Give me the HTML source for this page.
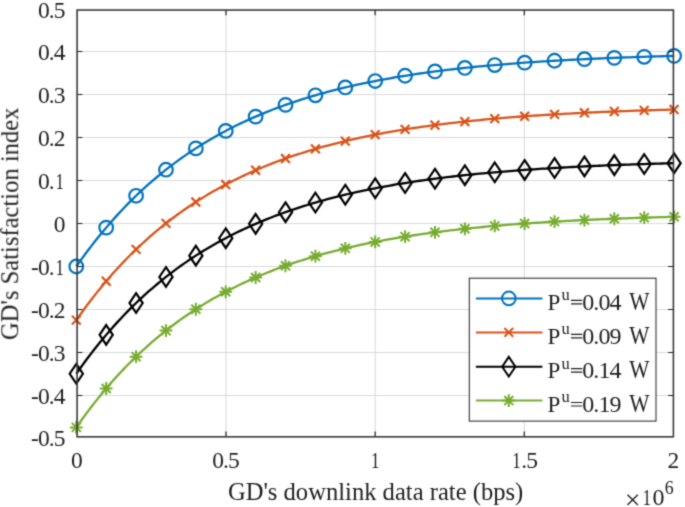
<!DOCTYPE html>
<html><head><meta charset="utf-8"><style>
html,body{margin:0;padding:0;background:#fff;overflow:hidden;}
svg{display:block;}
text{font-family:"Liberation Serif",serif;fill:#1e1e1e;}
</style></head><body>
<svg width="685" height="507" viewBox="0 0 685 507">
<defs><filter id="bl" x="0" y="0" width="685" height="507" filterUnits="userSpaceOnUse" color-interpolation-filters="sRGB"><feConvolveMatrix order="3" kernelMatrix="0.02768 0.11101 0.02768 0.11101 0.44521 0.11101 0.02768 0.11101 0.02768" edgeMode="duplicate" preserveAlpha="true"/></filter></defs>
<rect x="0" y="0" width="685" height="507" fill="#fff"/>
<g filter="url(#bl)">
<rect x="0" y="0" width="685" height="507" fill="#fff"/>

<path d="M226.00 10.05V436.80M375.15 10.05V436.80M524.30 10.05V436.80M77.10 395.50H673.40M77.10 352.50H673.40M77.10 309.50H673.40M77.10 266.50H673.40M77.10 223.50H673.40M77.10 180.50H673.40M77.10 137.50H673.40M77.10 94.50H673.40M77.10 51.50H673.40" stroke="#dadada" stroke-width="1.1" fill="none"/>
<path d="M76.30 266.50 L79.29 262.25 L82.28 258.09 L85.27 254.01 L88.26 250.01 L91.25 246.09 L94.23 242.24 L97.22 238.48 L100.21 234.78 L103.20 231.17 L106.19 227.62 L109.18 224.14 L112.17 220.73 L115.16 217.39 L118.15 214.12 L121.13 210.91 L124.12 207.76 L127.11 204.67 L130.10 201.65 L133.09 198.69 L136.08 195.78 L139.07 192.94 L142.06 190.15 L145.05 187.41 L148.04 184.73 L151.02 182.10 L154.01 179.52 L157.00 177.00 L159.99 174.52 L162.98 172.10 L165.97 169.72 L168.96 167.39 L171.95 165.10 L174.94 162.86 L177.93 160.67 L180.91 158.52 L183.90 156.41 L186.89 154.34 L189.88 152.31 L192.87 150.33 L195.86 148.38 L198.85 146.47 L201.84 144.60 L204.83 142.77 L207.82 140.97 L210.81 139.21 L213.79 137.48 L216.78 135.79 L219.77 134.13 L222.76 132.50 L225.75 130.91 L228.74 129.35 L231.73 127.82 L234.72 126.31 L237.71 124.84 L240.69 123.40 L243.68 121.99 L246.67 120.60 L249.66 119.24 L252.65 117.91 L255.64 116.61 L258.63 115.33 L261.62 114.07 L264.61 112.84 L267.60 111.64 L270.58 110.46 L273.57 109.30 L276.56 108.17 L279.55 107.05 L282.54 105.96 L285.53 104.90 L288.52 103.85 L291.51 102.82 L294.50 101.81 L297.49 100.83 L300.47 99.86 L303.46 98.91 L306.45 97.98 L309.44 97.07 L312.43 96.18 L315.42 95.31 L318.41 94.45 L321.40 93.61 L324.39 92.78 L327.38 91.98 L330.36 91.19 L333.35 90.41 L336.34 89.65 L339.33 88.90 L342.32 88.17 L345.31 87.46 L348.30 86.75 L351.29 86.07 L354.28 85.39 L357.27 84.73 L360.25 84.08 L363.24 83.45 L366.23 82.82 L369.22 82.21 L372.21 81.62 L375.20 81.03 L378.19 80.45 L381.18 79.89 L384.17 79.34 L387.16 78.80 L390.14 78.27 L393.13 77.75 L396.12 77.24 L399.11 76.74 L402.10 76.25 L405.09 75.77 L408.08 75.30 L411.07 74.84 L414.06 74.38 L417.05 73.94 L420.03 73.51 L423.02 73.08 L426.01 72.66 L429.00 72.25 L431.99 71.85 L434.98 71.46 L437.97 71.07 L440.96 70.70 L443.95 70.33 L446.94 69.96 L449.93 69.61 L452.91 69.26 L455.90 68.92 L458.89 68.58 L461.88 68.25 L464.87 67.93 L467.86 67.62 L470.85 67.31 L473.84 67.00 L476.83 66.71 L479.81 66.42 L482.80 66.13 L485.79 65.85 L488.78 65.58 L491.77 65.31 L494.76 65.04 L497.75 64.79 L500.74 64.53 L503.73 64.28 L506.72 64.04 L509.70 63.80 L512.69 63.57 L515.68 63.34 L518.67 63.12 L521.66 62.90 L524.65 62.68 L527.64 62.47 L530.63 62.26 L533.62 62.06 L536.61 61.86 L539.59 61.66 L542.58 61.47 L545.57 61.28 L548.56 61.10 L551.55 60.92 L554.54 60.74 L557.53 60.57 L560.52 60.40 L563.51 60.23 L566.50 60.07 L569.48 59.91 L572.47 59.75 L575.46 59.60 L578.45 59.45 L581.44 59.30 L584.43 59.16 L587.42 59.02 L590.41 58.88 L593.40 58.74 L596.39 58.61 L599.37 58.48 L602.36 58.35 L605.35 58.22 L608.34 58.10 L611.33 57.98 L614.32 57.86 L617.31 57.74 L620.30 57.63 L623.29 57.52 L626.28 57.41 L629.26 57.30 L632.25 57.20 L635.24 57.10 L638.23 56.99 L641.22 56.90 L644.21 56.80 L647.20 56.70 L650.19 56.61 L653.18 56.52 L656.17 56.43 L659.15 56.34 L662.14 56.26 L665.13 56.17 L668.12 56.09 L671.11 56.01 L674.10 55.93" stroke="#0072BD" stroke-width="2.3" fill="none" stroke-linejoin="round"/>
<g stroke="#0072BD" stroke-width="2.2" fill="none"><circle cx="76.30" cy="266.50" r="6.8"/><circle cx="106.19" cy="227.62" r="6.8"/><circle cx="136.08" cy="195.78" r="6.8"/><circle cx="165.97" cy="169.72" r="6.8"/><circle cx="195.86" cy="148.38" r="6.8"/><circle cx="225.75" cy="130.91" r="6.8"/><circle cx="255.64" cy="116.61" r="6.8"/><circle cx="285.53" cy="104.90" r="6.8"/><circle cx="315.42" cy="95.31" r="6.8"/><circle cx="345.31" cy="87.46" r="6.8"/><circle cx="375.20" cy="81.03" r="6.8"/><circle cx="405.09" cy="75.77" r="6.8"/><circle cx="434.98" cy="71.46" r="6.8"/><circle cx="464.87" cy="67.93" r="6.8"/><circle cx="494.76" cy="65.04" r="6.8"/><circle cx="524.65" cy="62.68" r="6.8"/><circle cx="554.54" cy="60.74" r="6.8"/><circle cx="584.43" cy="59.16" r="6.8"/><circle cx="614.32" cy="57.86" r="6.8"/><circle cx="644.21" cy="56.80" r="6.8"/><circle cx="674.10" cy="55.93" r="6.8"/></g>
<path d="M76.30 320.12 L79.29 315.88 L82.28 311.71 L85.27 307.63 L88.26 303.63 L91.25 299.71 L94.23 295.87 L97.22 292.10 L100.21 288.41 L103.20 284.79 L106.19 281.24 L109.18 277.77 L112.17 274.36 L115.16 271.02 L118.15 267.74 L121.13 264.53 L124.12 261.38 L127.11 258.30 L130.10 255.28 L133.09 252.31 L136.08 249.41 L139.07 246.56 L142.06 243.77 L145.05 241.04 L148.04 238.35 L151.02 235.73 L154.01 233.15 L157.00 230.62 L159.99 228.15 L162.98 225.72 L165.97 223.35 L168.96 221.01 L171.95 218.73 L174.94 216.49 L177.93 214.29 L180.91 212.14 L183.90 210.03 L186.89 207.97 L189.88 205.94 L192.87 203.95 L195.86 202.01 L198.85 200.10 L201.84 198.23 L204.83 196.39 L207.82 194.60 L210.81 192.83 L213.79 191.11 L216.78 189.41 L219.77 187.76 L222.76 186.13 L225.75 184.54 L228.74 182.97 L231.73 181.44 L234.72 179.94 L237.71 178.47 L240.69 177.03 L243.68 175.61 L246.67 174.23 L249.66 172.87 L252.65 171.54 L255.64 170.23 L258.63 168.95 L261.62 167.70 L264.61 166.47 L267.60 165.26 L270.58 164.08 L273.57 162.93 L276.56 161.79 L279.55 160.68 L282.54 159.59 L285.53 158.52 L288.52 157.47 L291.51 156.45 L294.50 155.44 L297.49 154.45 L300.47 153.49 L303.46 152.54 L306.45 151.61 L309.44 150.70 L312.43 149.81 L315.42 148.93 L318.41 148.07 L321.40 147.23 L324.39 146.41 L327.38 145.60 L330.36 144.81 L333.35 144.03 L336.34 143.27 L339.33 142.53 L342.32 141.80 L345.31 141.08 L348.30 140.38 L351.29 139.69 L354.28 139.02 L357.27 138.36 L360.25 137.71 L363.24 137.07 L366.23 136.45 L369.22 135.84 L372.21 135.24 L375.20 134.65 L378.19 134.08 L381.18 133.52 L384.17 132.96 L387.16 132.42 L390.14 131.89 L393.13 131.37 L396.12 130.86 L399.11 130.36 L402.10 129.87 L405.09 129.39 L408.08 128.92 L411.07 128.46 L414.06 128.01 L417.05 127.56 L420.03 127.13 L423.02 126.70 L426.01 126.29 L429.00 125.88 L431.99 125.48 L434.98 125.08 L437.97 124.70 L440.96 124.32 L443.95 123.95 L446.94 123.59 L449.93 123.23 L452.91 122.88 L455.90 122.54 L458.89 122.21 L461.88 121.88 L464.87 121.56 L467.86 121.24 L470.85 120.93 L473.84 120.63 L476.83 120.33 L479.81 120.04 L482.80 119.76 L485.79 119.48 L488.78 119.20 L491.77 118.93 L494.76 118.67 L497.75 118.41 L500.74 118.16 L503.73 117.91 L506.72 117.67 L509.70 117.43 L512.69 117.19 L515.68 116.96 L518.67 116.74 L521.66 116.52 L524.65 116.30 L527.64 116.09 L530.63 115.89 L533.62 115.68 L536.61 115.48 L539.59 115.29 L542.58 115.10 L545.57 114.91 L548.56 114.73 L551.55 114.55 L554.54 114.37 L557.53 114.20 L560.52 114.03 L563.51 113.86 L566.50 113.70 L569.48 113.54 L572.47 113.38 L575.46 113.23 L578.45 113.08 L581.44 112.93 L584.43 112.78 L587.42 112.64 L590.41 112.50 L593.40 112.37 L596.39 112.23 L599.37 112.10 L602.36 111.97 L605.35 111.85 L608.34 111.73 L611.33 111.60 L614.32 111.49 L617.31 111.37 L620.30 111.26 L623.29 111.14 L626.28 111.04 L629.26 110.93 L632.25 110.82 L635.24 110.72 L638.23 110.62 L641.22 110.52 L644.21 110.42 L647.20 110.33 L650.19 110.24 L653.18 110.14 L656.17 110.05 L659.15 109.97 L662.14 109.88 L665.13 109.80 L668.12 109.71 L671.11 109.63 L674.10 109.55" stroke="#D95319" stroke-width="2.3" fill="none" stroke-linejoin="round"/>
<g stroke="#D95319" stroke-width="2.2" fill="none"><path d="M71.90 315.73L80.70 324.52M71.90 324.52L80.70 315.73"/><path d="M101.79 276.84L110.59 285.64M101.79 285.64L110.59 276.84"/><path d="M131.68 245.01L140.48 253.81M131.68 253.81L140.48 245.01"/><path d="M161.57 218.95L170.37 227.75M161.57 227.75L170.37 218.95"/><path d="M191.46 197.61L200.26 206.41M191.46 206.41L200.26 197.61"/><path d="M221.35 180.14L230.15 188.94M221.35 188.94L230.15 180.14"/><path d="M251.24 165.83L260.04 174.63M251.24 174.63L260.04 165.83"/><path d="M281.13 154.12L289.93 162.92M281.13 162.92L289.93 154.12"/><path d="M311.02 144.53L319.82 153.33M311.02 153.33L319.82 144.53"/><path d="M340.91 136.68L349.71 145.48M340.91 145.48L349.71 136.68"/><path d="M370.80 130.25L379.60 139.05M370.80 139.05L379.60 130.25"/><path d="M400.69 124.99L409.49 133.79M400.69 133.79L409.49 124.99"/><path d="M430.58 120.68L439.38 129.48M430.58 129.48L439.38 120.68"/><path d="M460.47 117.16L469.27 125.96M460.47 125.96L469.27 117.16"/><path d="M490.36 114.27L499.16 123.07M490.36 123.07L499.16 114.27"/><path d="M520.25 111.90L529.05 120.70M520.25 120.70L529.05 111.90"/><path d="M550.14 109.97L558.94 118.77M550.14 118.77L558.94 109.97"/><path d="M580.03 108.38L588.83 117.18M580.03 117.18L588.83 108.38"/><path d="M609.92 107.09L618.72 115.89M609.92 115.89L618.72 107.09"/><path d="M639.81 106.02L648.61 114.82M639.81 114.82L648.61 106.02"/><path d="M669.70 105.15L678.50 113.95M669.70 113.95L678.50 105.15"/></g>
<path d="M76.30 373.75 L79.29 369.50 L82.28 365.34 L85.27 361.26 L88.26 357.26 L91.25 353.34 L94.23 349.49 L97.22 345.73 L100.21 342.03 L103.20 338.42 L106.19 334.87 L109.18 331.39 L112.17 327.98 L115.16 324.64 L118.15 321.37 L121.13 318.16 L124.12 315.01 L127.11 311.92 L130.10 308.90 L133.09 305.94 L136.08 303.03 L139.07 300.19 L142.06 297.40 L145.05 294.66 L148.04 291.98 L151.02 289.35 L154.01 286.77 L157.00 284.25 L159.99 281.77 L162.98 279.35 L165.97 276.97 L168.96 274.64 L171.95 272.35 L174.94 270.11 L177.93 267.92 L180.91 265.77 L183.90 263.66 L186.89 261.59 L189.88 259.56 L192.87 257.58 L195.86 255.63 L198.85 253.72 L201.84 251.85 L204.83 250.02 L207.82 248.22 L210.81 246.46 L213.79 244.73 L216.78 243.04 L219.77 241.38 L222.76 239.75 L225.75 238.16 L228.74 236.60 L231.73 235.07 L234.72 233.56 L237.71 232.09 L240.69 230.65 L243.68 229.24 L246.67 227.85 L249.66 226.49 L252.65 225.16 L255.64 223.86 L258.63 222.58 L261.62 221.32 L264.61 220.09 L267.60 218.89 L270.58 217.71 L273.57 216.55 L276.56 215.42 L279.55 214.30 L282.54 213.21 L285.53 212.15 L288.52 211.10 L291.51 210.07 L294.50 209.06 L297.49 208.08 L300.47 207.11 L303.46 206.16 L306.45 205.23 L309.44 204.32 L312.43 203.43 L315.42 202.56 L318.41 201.70 L321.40 200.86 L324.39 200.03 L327.38 199.23 L330.36 198.44 L333.35 197.66 L336.34 196.90 L339.33 196.15 L342.32 195.42 L345.31 194.71 L348.30 194.00 L351.29 193.32 L354.28 192.64 L357.27 191.98 L360.25 191.33 L363.24 190.70 L366.23 190.07 L369.22 189.46 L372.21 188.87 L375.20 188.28 L378.19 187.70 L381.18 187.14 L384.17 186.59 L387.16 186.05 L390.14 185.52 L393.13 185.00 L396.12 184.49 L399.11 183.99 L402.10 183.50 L405.09 183.02 L408.08 182.55 L411.07 182.09 L414.06 181.63 L417.05 181.19 L420.03 180.76 L423.02 180.33 L426.01 179.91 L429.00 179.50 L431.99 179.10 L434.98 178.71 L437.97 178.32 L440.96 177.95 L443.95 177.58 L446.94 177.21 L449.93 176.86 L452.91 176.51 L455.90 176.17 L458.89 175.83 L461.88 175.50 L464.87 175.18 L467.86 174.87 L470.85 174.56 L473.84 174.25 L476.83 173.96 L479.81 173.67 L482.80 173.38 L485.79 173.10 L488.78 172.83 L491.77 172.56 L494.76 172.29 L497.75 172.04 L500.74 171.78 L503.73 171.53 L506.72 171.29 L509.70 171.05 L512.69 170.82 L515.68 170.59 L518.67 170.37 L521.66 170.15 L524.65 169.93 L527.64 169.72 L530.63 169.51 L533.62 169.31 L536.61 169.11 L539.59 168.91 L542.58 168.72 L545.57 168.53 L548.56 168.35 L551.55 168.17 L554.54 167.99 L557.53 167.82 L560.52 167.65 L563.51 167.48 L566.50 167.32 L569.48 167.16 L572.47 167.00 L575.46 166.85 L578.45 166.70 L581.44 166.55 L584.43 166.41 L587.42 166.27 L590.41 166.13 L593.40 165.99 L596.39 165.86 L599.37 165.73 L602.36 165.60 L605.35 165.47 L608.34 165.35 L611.33 165.23 L614.32 165.11 L617.31 164.99 L620.30 164.88 L623.29 164.77 L626.28 164.66 L629.26 164.55 L632.25 164.45 L635.24 164.35 L638.23 164.24 L641.22 164.15 L644.21 164.05 L647.20 163.95 L650.19 163.86 L653.18 163.77 L656.17 163.68 L659.15 163.59 L662.14 163.51 L665.13 163.42 L668.12 163.34 L671.11 163.26 L674.10 163.18" stroke="#000000" stroke-width="2.3" fill="none" stroke-linejoin="round"/>
<g stroke="#000000" stroke-width="2.2" fill="none"><path d="M76.30 363.95L82.90 373.75L76.30 383.55L69.70 373.75Z"/><path d="M106.19 325.07L112.79 334.87L106.19 344.67L99.59 334.87Z"/><path d="M136.08 293.23L142.68 303.03L136.08 312.83L129.48 303.03Z"/><path d="M165.97 267.17L172.57 276.97L165.97 286.77L159.37 276.97Z"/><path d="M195.86 245.83L202.46 255.63L195.86 265.43L189.26 255.63Z"/><path d="M225.75 228.36L232.35 238.16L225.75 247.96L219.15 238.16Z"/><path d="M255.64 214.06L262.24 223.86L255.64 233.66L249.04 223.86Z"/><path d="M285.53 202.35L292.13 212.15L285.53 221.95L278.93 212.15Z"/><path d="M315.42 192.76L322.02 202.56L315.42 212.36L308.82 202.56Z"/><path d="M345.31 184.91L351.91 194.71L345.31 204.51L338.71 194.71Z"/><path d="M375.20 178.48L381.80 188.28L375.20 198.08L368.60 188.28Z"/><path d="M405.09 173.22L411.69 183.02L405.09 192.82L398.49 183.02Z"/><path d="M434.98 168.91L441.58 178.71L434.98 188.51L428.38 178.71Z"/><path d="M464.87 165.38L471.47 175.18L464.87 184.98L458.27 175.18Z"/><path d="M494.76 162.49L501.36 172.29L494.76 182.09L488.16 172.29Z"/><path d="M524.65 160.13L531.25 169.93L524.65 179.73L518.05 169.93Z"/><path d="M554.54 158.19L561.14 167.99L554.54 177.79L547.94 167.99Z"/><path d="M584.43 156.61L591.03 166.41L584.43 176.21L577.83 166.41Z"/><path d="M614.32 155.31L620.92 165.11L614.32 174.91L607.72 165.11Z"/><path d="M644.21 154.25L650.81 164.05L644.21 173.85L637.61 164.05Z"/><path d="M674.10 153.38L680.70 163.18L674.10 172.98L667.50 163.18Z"/></g>
<path d="M76.30 427.38 L79.29 423.13 L82.28 418.96 L85.27 414.88 L88.26 410.88 L91.25 406.96 L94.23 403.12 L97.22 399.35 L100.21 395.66 L103.20 392.04 L106.19 388.49 L109.18 385.02 L112.17 381.61 L115.16 378.27 L118.15 374.99 L121.13 371.78 L124.12 368.63 L127.11 365.55 L130.10 362.53 L133.09 359.56 L136.08 356.66 L139.07 353.81 L142.06 351.02 L145.05 348.29 L148.04 345.60 L151.02 342.98 L154.01 340.40 L157.00 337.87 L159.99 335.40 L162.98 332.97 L165.97 330.60 L168.96 328.26 L171.95 325.98 L174.94 323.74 L177.93 321.54 L180.91 319.39 L183.90 317.28 L186.89 315.22 L189.88 313.19 L192.87 311.20 L195.86 309.26 L198.85 307.35 L201.84 305.48 L204.83 303.64 L207.82 301.85 L210.81 300.08 L213.79 298.36 L216.78 296.66 L219.77 295.01 L222.76 293.38 L225.75 291.79 L228.74 290.22 L231.73 288.69 L234.72 287.19 L237.71 285.72 L240.69 284.28 L243.68 282.86 L246.67 281.48 L249.66 280.12 L252.65 278.79 L255.64 277.48 L258.63 276.20 L261.62 274.95 L264.61 273.72 L267.60 272.51 L270.58 271.33 L273.57 270.18 L276.56 269.04 L279.55 267.93 L282.54 266.84 L285.53 265.77 L288.52 264.72 L291.51 263.70 L294.50 262.69 L297.49 261.70 L300.47 260.74 L303.46 259.79 L306.45 258.86 L309.44 257.95 L312.43 257.06 L315.42 256.18 L318.41 255.32 L321.40 254.48 L324.39 253.66 L327.38 252.85 L330.36 252.06 L333.35 251.28 L336.34 250.52 L339.33 249.78 L342.32 249.05 L345.31 248.33 L348.30 247.63 L351.29 246.94 L354.28 246.27 L357.27 245.61 L360.25 244.96 L363.24 244.32 L366.23 243.70 L369.22 243.09 L372.21 242.49 L375.20 241.90 L378.19 241.33 L381.18 240.77 L384.17 240.21 L387.16 239.67 L390.14 239.14 L393.13 238.62 L396.12 238.11 L399.11 237.61 L402.10 237.12 L405.09 236.64 L408.08 236.17 L411.07 235.71 L414.06 235.26 L417.05 234.81 L420.03 234.38 L423.02 233.95 L426.01 233.54 L429.00 233.13 L431.99 232.73 L434.98 232.33 L437.97 231.95 L440.96 231.57 L443.95 231.20 L446.94 230.84 L449.93 230.48 L452.91 230.13 L455.90 229.79 L458.89 229.46 L461.88 229.13 L464.87 228.81 L467.86 228.49 L470.85 228.18 L473.84 227.88 L476.83 227.58 L479.81 227.29 L482.80 227.01 L485.79 226.73 L488.78 226.45 L491.77 226.18 L494.76 225.92 L497.75 225.66 L500.74 225.41 L503.73 225.16 L506.72 224.92 L509.70 224.68 L512.69 224.44 L515.68 224.21 L518.67 223.99 L521.66 223.77 L524.65 223.55 L527.64 223.34 L530.63 223.14 L533.62 222.93 L536.61 222.73 L539.59 222.54 L542.58 222.35 L545.57 222.16 L548.56 221.98 L551.55 221.80 L554.54 221.62 L557.53 221.45 L560.52 221.28 L563.51 221.11 L566.50 220.95 L569.48 220.79 L572.47 220.63 L575.46 220.48 L578.45 220.33 L581.44 220.18 L584.43 220.03 L587.42 219.89 L590.41 219.75 L593.40 219.62 L596.39 219.48 L599.37 219.35 L602.36 219.22 L605.35 219.10 L608.34 218.98 L611.33 218.85 L614.32 218.74 L617.31 218.62 L620.30 218.51 L623.29 218.39 L626.28 218.29 L629.26 218.18 L632.25 218.07 L635.24 217.97 L638.23 217.87 L641.22 217.77 L644.21 217.67 L647.20 217.58 L650.19 217.49 L653.18 217.39 L656.17 217.30 L659.15 217.22 L662.14 217.13 L665.13 217.05 L668.12 216.96 L671.11 216.88 L674.10 216.80" stroke="#77AC30" stroke-width="2.3" fill="none" stroke-linejoin="round"/>
<g stroke="#77AC30" stroke-width="2.2" fill="none"><path d="M76.30 420.98V433.77M69.90 427.38H82.70M71.77 422.85L80.83 431.90M71.77 431.90L80.83 422.85" stroke-width="2.0"/><path d="M106.19 382.09V394.89M99.79 388.49H112.59M101.66 383.97L110.72 393.02M101.66 393.02L110.72 383.97" stroke-width="2.0"/><path d="M136.08 350.26V363.06M129.68 356.66H142.48M131.55 352.13L140.61 361.18M131.55 361.18L140.61 352.13" stroke-width="2.0"/><path d="M165.97 324.20V337.00M159.57 330.60H172.37M161.44 326.07L170.50 335.12M161.44 335.12L170.50 326.07" stroke-width="2.0"/><path d="M195.86 302.86V315.66M189.46 309.26H202.26M191.33 304.73L200.39 313.78M191.33 313.78L200.39 304.73" stroke-width="2.0"/><path d="M225.75 285.39V298.19M219.35 291.79H232.15M221.22 287.26L230.28 296.31M221.22 296.31L230.28 287.26" stroke-width="2.0"/><path d="M255.64 271.08V283.88M249.24 277.48H262.04M251.11 272.96L260.17 282.01M251.11 282.01L260.17 272.96" stroke-width="2.0"/><path d="M285.53 259.37V272.17M279.13 265.77H291.93M281.00 261.24L290.06 270.30M281.00 270.30L290.06 261.24" stroke-width="2.0"/><path d="M315.42 249.78V262.58M309.02 256.18H321.82M310.89 251.66L319.95 260.71M310.89 260.71L319.95 251.66" stroke-width="2.0"/><path d="M345.31 241.93V254.73M338.91 248.33H351.71M340.78 243.81L349.84 252.86M340.78 252.86L349.84 243.81" stroke-width="2.0"/><path d="M375.20 235.50V248.30M368.80 241.90H381.60M370.67 237.38L379.73 246.43M370.67 246.43L379.73 237.38" stroke-width="2.0"/><path d="M405.09 230.24V243.04M398.69 236.64H411.49M400.56 232.12L409.62 241.17M400.56 241.17L409.62 232.12" stroke-width="2.0"/><path d="M434.98 225.93V238.73M428.58 232.33H441.38M430.45 227.81L439.51 236.86M430.45 236.86L439.51 227.81" stroke-width="2.0"/><path d="M464.87 222.41V235.21M458.47 228.81H471.27M460.34 224.28L469.40 233.33M460.34 233.33L469.40 224.28" stroke-width="2.0"/><path d="M494.76 219.52V232.32M488.36 225.92H501.16M490.23 221.39L499.29 230.44M490.23 230.44L499.29 221.39" stroke-width="2.0"/><path d="M524.65 217.15V229.95M518.25 223.55H531.05M520.12 219.03L529.18 228.08M520.12 228.08L529.18 219.03" stroke-width="2.0"/><path d="M554.54 215.22V228.02M548.14 221.62H560.94M550.01 217.09L559.07 226.14M550.01 226.14L559.07 217.09" stroke-width="2.0"/><path d="M584.43 213.63V226.43M578.03 220.03H590.83M579.90 215.51L588.96 224.56M579.90 224.56L588.96 215.51" stroke-width="2.0"/><path d="M614.32 212.34V225.14M607.92 218.74H620.72M609.79 214.21L618.85 223.26M609.79 223.26L618.85 214.21" stroke-width="2.0"/><path d="M644.21 211.27V224.07M637.81 217.67H650.61M639.68 213.15L648.74 222.20M639.68 222.20L648.74 213.15" stroke-width="2.0"/><path d="M674.10 210.40V223.20M667.70 216.80H680.50M669.57 212.28L678.63 221.33M669.57 221.33L678.63 212.28" stroke-width="2.0"/></g>
<path d="M226.00 436.80V431.50M226.00 10.05V15.35M375.15 436.80V431.50M375.15 10.05V15.35M524.30 436.80V431.50M524.30 10.05V15.35M77.10 395.50H82.40M673.40 395.50H668.10M77.10 352.50H82.40M673.40 352.50H668.10M77.10 309.50H82.40M673.40 309.50H668.10M77.10 266.50H82.40M673.40 266.50H668.10M77.10 223.50H82.40M673.40 223.50H668.10M77.10 180.50H82.40M673.40 180.50H668.10M77.10 137.50H82.40M673.40 137.50H668.10M77.10 94.50H82.40M673.40 94.50H668.10M77.10 51.50H82.40M673.40 51.50H668.10" stroke="#1e1e1e" stroke-width="1.2" fill="none"/>
<rect x="77.10" y="10.05" width="596.30" height="426.75" stroke="#3a3a3a" stroke-width="1.6" fill="none"/>
<text transform="translate(31.05,446.20) scale(1,1.02)" font-size="23.5">-</text><text transform="translate(37.92,446.20) scale(1,1.02)" font-size="23.5">0</text><text transform="translate(48.73,446.20) scale(1,1.02)" font-size="23.5">.</text><text transform="translate(53.65,446.20) scale(1,1.02)" font-size="23.5">5</text>
<text transform="translate(31.05,404.10) scale(1,1.02)" font-size="23.5">-</text><text transform="translate(37.92,404.10) scale(1,1.02)" font-size="23.5">0</text><text transform="translate(48.73,404.10) scale(1,1.02)" font-size="23.5">.</text><text transform="translate(53.65,404.10) scale(1,1.02)" font-size="23.5">4</text>
<text transform="translate(31.05,361.10) scale(1,1.02)" font-size="23.5">-</text><text transform="translate(37.92,361.10) scale(1,1.02)" font-size="23.5">0</text><text transform="translate(48.73,361.10) scale(1,1.02)" font-size="23.5">.</text><text transform="translate(53.65,361.10) scale(1,1.02)" font-size="23.5">3</text>
<text transform="translate(31.05,318.10) scale(1,1.02)" font-size="23.5">-</text><text transform="translate(37.92,318.10) scale(1,1.02)" font-size="23.5">0</text><text transform="translate(48.73,318.10) scale(1,1.02)" font-size="23.5">.</text><text transform="translate(53.65,318.10) scale(1,1.02)" font-size="23.5">2</text>
<text transform="translate(31.05,275.10) scale(1,1.02)" font-size="23.5">-</text><text transform="translate(37.92,275.10) scale(1,1.02)" font-size="23.5">0</text><text transform="translate(48.73,275.10) scale(1,1.02)" font-size="23.5">.</text><text transform="translate(59.85,275.10) scale(0.72,1.02)" x="-6.20" font-size="23.5">1</text>
<text transform="translate(53.65,232.10) scale(1,1.02)" font-size="23.5">0</text>
<text transform="translate(37.93,189.10) scale(1,1.02)" font-size="23.5">0</text><text transform="translate(48.73,189.10) scale(1,1.02)" font-size="23.5">.</text><text transform="translate(59.85,189.10) scale(0.72,1.02)" x="-6.20" font-size="23.5">1</text>
<text transform="translate(37.93,146.10) scale(1,1.02)" font-size="23.5">0</text><text transform="translate(48.73,146.10) scale(1,1.02)" font-size="23.5">.</text><text transform="translate(53.65,146.10) scale(1,1.02)" font-size="23.5">2</text>
<text transform="translate(37.93,103.10) scale(1,1.02)" font-size="23.5">0</text><text transform="translate(48.73,103.10) scale(1,1.02)" font-size="23.5">.</text><text transform="translate(53.65,103.10) scale(1,1.02)" font-size="23.5">3</text>
<text transform="translate(37.93,60.10) scale(1,1.02)" font-size="23.5">0</text><text transform="translate(48.73,60.10) scale(1,1.02)" font-size="23.5">.</text><text transform="translate(53.65,60.10) scale(1,1.02)" font-size="23.5">4</text>
<text transform="translate(37.93,18.25) scale(1,1.02)" font-size="23.5">0</text><text transform="translate(48.73,18.25) scale(1,1.02)" font-size="23.5">.</text><text transform="translate(53.65,18.25) scale(1,1.02)" font-size="23.5">5</text>
<text transform="translate(70.97,468.30) scale(1,1.02)" font-size="23.5">0</text>
<text transform="translate(212.26,468.30) scale(1,1.02)" font-size="23.5">0</text><text transform="translate(223.06,468.30) scale(1,1.02)" font-size="23.5">.</text><text transform="translate(227.99,468.30) scale(1,1.02)" font-size="23.5">5</text>
<text transform="translate(375.48,468.30) scale(0.72,1.02)" x="-6.20" font-size="23.5">1</text>
<text transform="translate(516.76,468.30) scale(0.72,1.02)" x="-6.20" font-size="23.5">1</text><text transform="translate(521.36,468.30) scale(1,1.02)" font-size="23.5">.</text><text transform="translate(526.29,468.30) scale(1,1.02)" font-size="23.5">5</text>
<text transform="translate(667.52,468.30) scale(1,1.02)" font-size="23.5">2</text>
<text x="375.6" y="499.6" font-size="24.6" text-anchor="middle">GD's downlink data rate (bps)</text>
<text x="624.8" y="509.2" font-size="28" fill="#444">×</text>
<text transform="translate(642.6,505.3) scale(0.72,1)" font-size="24">1</text>
<text x="652.5" y="505.3" font-size="24">0</text>
<text x="664.7" y="494.2" font-size="17.8">6</text>
<text transform="translate(18.2,223.8) rotate(-90)" font-size="24.6" text-anchor="middle">GD's Satisfaction index</text>
<rect x="469.3" y="278.2" width="186.7" height="142.9" fill="#fff" stroke="#1e1e1e" stroke-width="1"/>
<path d="M475.9 298.4H542.4" stroke="#0072BD" stroke-width="2"/>
<g stroke="#0072BD" stroke-width="2" fill="none"><circle cx="508.80" cy="298.40" r="6.8"/></g>
<text transform="translate(547.6,309.60) scale(0.98,1)" font-size="23.5">P</text>
<text x="561.6" y="300.20" font-size="16.5">u</text>
<path d="M571 300.30H582.3M571 303.80H582.3" stroke="#1e1e1e" stroke-width="1.2"/>
<text x="582.2" y="309.60" font-size="24" letter-spacing="-0.9">0.04</text>
<text transform="translate(629.2,309.60) scale(0.88,1)" font-size="24.3">W</text>
<path d="M475.9 332.4H542.4" stroke="#D95319" stroke-width="2"/>
<g stroke="#D95319" stroke-width="2" fill="none"><path d="M504.40 328.00L513.20 336.80M504.40 336.80L513.20 328.00"/></g>
<text transform="translate(547.6,343.60) scale(0.98,1)" font-size="23.5">P</text>
<text x="561.6" y="334.20" font-size="16.5">u</text>
<path d="M571 334.30H582.3M571 337.80H582.3" stroke="#1e1e1e" stroke-width="1.2"/>
<text x="582.2" y="343.60" font-size="24" letter-spacing="-0.9">0.09</text>
<text transform="translate(629.2,343.60) scale(0.88,1)" font-size="24.3">W</text>
<path d="M475.9 366.7H542.4" stroke="#000000" stroke-width="2"/>
<g stroke="#000000" stroke-width="2" fill="none"><path d="M508.80 356.90L515.40 366.70L508.80 376.50L502.20 366.70Z"/></g>
<text transform="translate(547.6,377.90) scale(0.98,1)" font-size="23.5">P</text>
<text x="561.6" y="368.50" font-size="16.5">u</text>
<path d="M571 368.60H582.3M571 372.10H582.3" stroke="#1e1e1e" stroke-width="1.2"/>
<text x="582.2" y="377.90" font-size="24" letter-spacing="-0.9">0.14</text>
<text transform="translate(629.2,377.90) scale(0.88,1)" font-size="24.3">W</text>
<path d="M475.9 400.6H542.4" stroke="#77AC30" stroke-width="2"/>
<g stroke="#77AC30" stroke-width="2" fill="none"><path d="M508.80 394.20V407.00M502.40 400.60H515.20M504.27 396.07L513.33 405.13M504.27 405.13L513.33 396.07" stroke-width="2.0"/></g>
<text transform="translate(547.6,411.80) scale(0.98,1)" font-size="23.5">P</text>
<text x="561.6" y="402.40" font-size="16.5">u</text>
<path d="M571 402.50H582.3M571 406.00H582.3" stroke="#1e1e1e" stroke-width="1.2"/>
<text x="582.2" y="411.80" font-size="24" letter-spacing="-0.9">0.19</text>
<text transform="translate(629.2,411.80) scale(0.88,1)" font-size="24.3">W</text>
</g></svg></body></html>
